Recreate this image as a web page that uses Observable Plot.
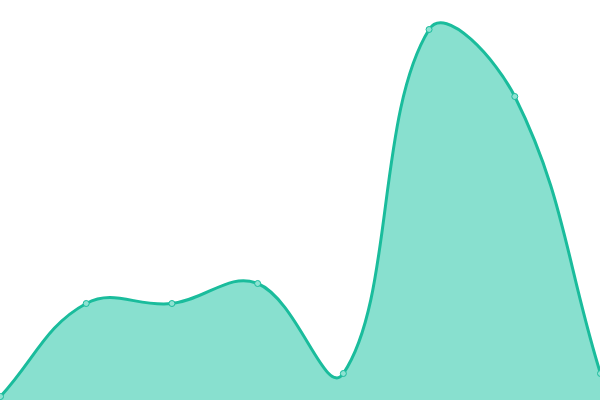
<!DOCTYPE html>
<html><head><meta charset="utf-8">
<script src="https://cdn.jsdelivr.net/npm/d3@7"></script>
<script src="https://cdn.jsdelivr.net/npm/@observablehq/plot@0.6"></script>
<style>body{margin:0;background:#fff}</style>
</head><body><div id="chart"></div>
<script>
const categories = [0, 1, 2, 3, 4, 5, 6, 7];
const values = [1, 24.25, 24.25, 29.25, 6.75, 92.75, 76, 6.75];
const data = categories.map((c, i) => ({x: c, y: values[i]}));

const W = 600, H = 400;

// Tension spline curve factory (distance-weighted bezier, control points kept inside the frame)
function tensionCurve(t, w, h) {
  const cx = v => Math.max(0, Math.min(w, v));
  const cy = v => Math.max(0, Math.min(h, v));
  return function(context) {
    let pts, line;
    return {
      areaStart() { line = 0; },
      areaEnd() { line = NaN; },
      lineStart() { pts = []; },
      point(x, y) { pts.push([+x, +y]); },
      lineEnd() {
        const n = pts.length;
        if (n) {
          if (line) context.lineTo(pts[0][0], pts[0][1]);
          else context.moveTo(pts[0][0], pts[0][1]);
          const prevC = [], nextC = [];
          for (let i = 0; i < n; i++) {
            const p = pts[i], a = pts[i > 0 ? i - 1 : i], b = pts[i < n - 1 ? i + 1 : i];
            const d01 = Math.hypot(p[0] - a[0], p[1] - a[1]);
            const d12 = Math.hypot(b[0] - p[0], b[1] - p[1]);
            let s01 = d01 / (d01 + d12), s12 = d12 / (d01 + d12);
            if (!isFinite(s01)) s01 = 0;
            if (!isFinite(s12)) s12 = 0;
            const fa = t * s01, fb = t * s12;
            prevC[i] = [cx(p[0] - fa * (b[0] - a[0])), cy(p[1] - fa * (b[1] - a[1]))];
            nextC[i] = [cx(p[0] + fb * (b[0] - a[0])), cy(p[1] + fb * (b[1] - a[1]))];
          }
          for (let k = 1; k < n; k++) {
            context.bezierCurveTo(nextC[k - 1][0], nextC[k - 1][1], prevC[k][0], prevC[k][1], pts[k][0], pts[k][1]);
          }
        }
        if (line || (line !== 0 && n === 1)) context.closePath();
        line = 1 - line;
      }
    };
  };
}
const curve = tensionCurve(0.4, W, H);

const chart = Plot.plot({
  width: W, height: H,
  margin: 0,
  x: {domain: [0, 7], axis: null},
  y: {domain: [0, 100], axis: null},
  marks: [
    Plot.areaY(data, {x: "x", y: "y", curve, fill: "#88e0cf"}),
    Plot.lineY(data, {x: "x", y: "y", curve, stroke: "#1abc9c", strokeWidth: 3}),
    Plot.dot(data, {x: "x", y: "y", r: 3, fill: "#8ee2d2", stroke: "#1abc9c", strokeWidth: 1})
  ]
});
document.getElementById("chart").append(chart);
</script></body></html>
